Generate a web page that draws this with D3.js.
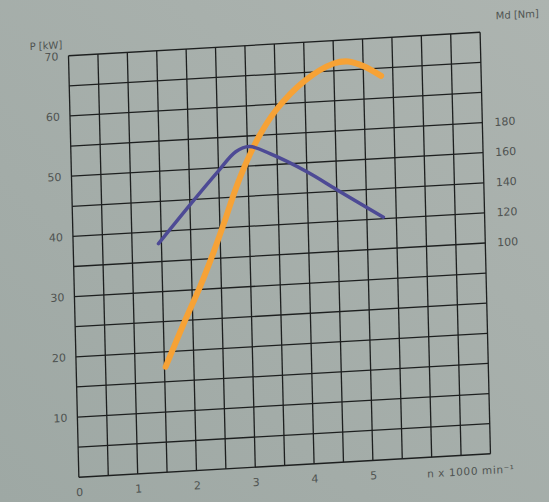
<!DOCTYPE html>
<html>
<head>
<meta charset="utf-8">
<script src="https://cdn.jsdelivr.net/npm/d3@7"></script>
<style>
  body { margin: 0; background: #a3aca8; }
  svg { display: block; }
</style>
</head>
<body>
<svg id="chart" width="549" height="502"></svg>
<script>
// values
const rpmTicks = [0, 1, 2, 3, 4, 5];
const powerTicks = [10, 20, 30, 40, 50, 60, 70];
const torqueTicks = [100, 120, 140, 160, 180];

// P [kW] vs n (x1000 min^-1)
const powerRpm = [1.52, 1.87, 2.14, 2.38, 2.58, 2.77, 2.97, 3.2, 3.5, 4.0, 4.5, 4.75, 5.0, 5.3];
const powerKw  = [17.5, 25, 30.5, 36, 41, 46, 50.5, 54.8, 59, 63.6, 66.2, 66.4, 65.5, 63.7];

// Md [Nm] vs n
const torqueRpm = [1.45, 2.08, 2.5, 2.8, 3.03, 3.4, 4.0, 4.5, 5.28];
const torqueNm  = [112, 140, 158, 170, 173, 167, 154, 141, 121];

const W = 411.6, H = 421.5;

const svg = d3.select("#chart");

const defs = svg.append("defs");
const grad = defs.append("linearGradient").attr("id", "paper")
    .attr("x1", "0").attr("y1", "1").attr("x2", "1").attr("y2", "0");
grad.append("stop").attr("offset", "0%").attr("stop-color", "#9ea8a4");
grad.append("stop").attr("offset", "100%").attr("stop-color", "#adb4b0");
svg.append("rect").attr("width", 549).attr("height", 502).attr("fill", "url(#paper)");

// the sheet was photographed at a slant, so the whole plot is skewed a little
const g = svg.append("g")
    .attr("transform", "matrix(1,-0.0571,0.0246,1,68.5,55.75)");

const x = d3.scaleLinear().domain([0, 7]).range([0, W]);
const yP = d3.scaleLinear().domain([0, 70]).range([H, 0]);
const yMd = d3.scaleLinear().domain([0, 240]).range([yP(10), yP(70)]);

// grid
g.append("g").selectAll("line")
    .data(x.ticks(14))
    .join("line")
    .attr("x1", d => x(d)).attr("x2", d => x(d))
    .attr("y1", 0).attr("y2", H)
    .attr("stroke", "#1d1f1f").attr("stroke-width", 1.3);
g.append("g").selectAll("line")
    .data(yP.ticks(14))
    .join("line")
    .attr("y1", d => yP(d)).attr("y2", d => yP(d))
    .attr("x1", 0).attr("x2", W)
    .attr("stroke", "#1d1f1f").attr("stroke-width", 1.3);

const font = "'DejaVu Sans', sans-serif";

const xAxis = g.append("g")
    .attr("transform", `translate(0,${H})`)
    .call(d3.axisBottom(x).tickValues(rpmTicks).tickFormat(d3.format("d")).tickSize(0).tickPadding(11));
xAxis.select(".domain").remove();

const leftAxis = g.append("g")
    .call(d3.axisLeft(yP).tickValues(powerTicks).tickSize(0).tickPadding(10));
leftAxis.select(".domain").remove();

const rightAxis = g.append("g")
    .attr("transform", `translate(${W},0)`)
    .call(d3.axisRight(yMd).tickValues(torqueTicks).tickSize(0).tickPadding(12));
rightAxis.select(".domain").remove();

g.selectAll(".tick text")
    .attr("fill", "#4f5351")
    .attr("font-family", font)
    .attr("font-size", "11px");

g.append("text")
    .attr("x", -6).attr("y", -8)
    .attr("text-anchor", "end")
    .attr("fill", "#4f5351").attr("font-family", font).attr("font-size", "10px")
    .text("P [kW]");

g.append("text")
    .attr("x", W + 16).attr("y", -12)
    .attr("fill", "#4f5351").attr("font-family", font).attr("font-size", "10px")
    .text("Md [Nm]");

g.append("text")
    .attr("x", x(6) - 5).attr("y", H + 20)
    .attr("fill", "#4f5351").attr("font-family", font).attr("font-size", "10.5px")
    .attr("letter-spacing", "0.6px")
    .text("n  x 1000 min⁻¹");

// curves
const powerLine = d3.line()
    .x((d, i) => x(powerRpm[i]))
    .y(d => yP(d))
    .curve(d3.curveCatmullRom.alpha(0.5));
g.append("path")
    .attr("d", powerLine(powerKw))
    .attr("fill", "none")
    .attr("stroke", "#f6a236")
    .attr("stroke-width", 6)
    .attr("stroke-linecap", "round");

const torqueLine = d3.line()
    .x((d, i) => x(torqueRpm[i]))
    .y(d => yMd(d))
    .curve(d3.curveCatmullRom.alpha(0.5));
g.append("path")
    .attr("d", torqueLine(torqueNm))
    .attr("fill", "none")
    .attr("stroke", "#4d4a95")
    .attr("stroke-width", 3.5)
    .attr("stroke-linecap", "round");
</script>
</body>
</html>
